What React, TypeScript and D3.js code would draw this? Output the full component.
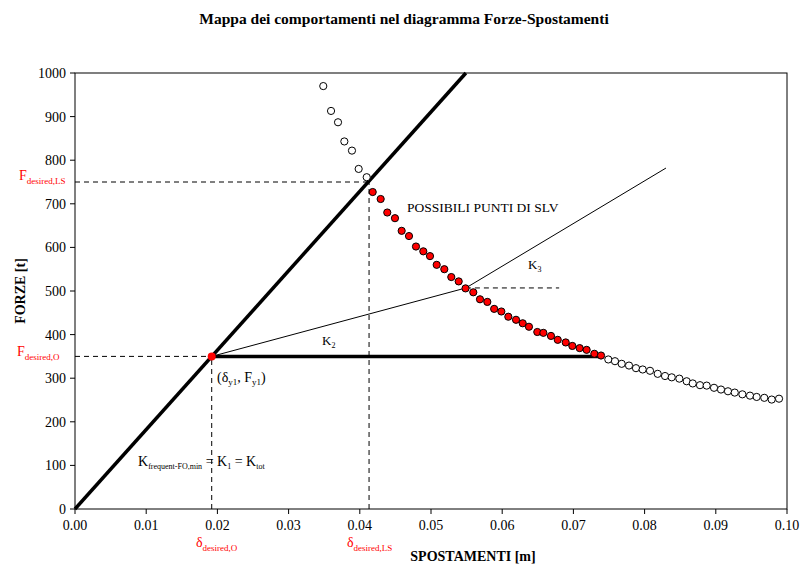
import React from "react";
import * as d3 from "d3";

const xTicks = [0, 0.01, 0.02, 0.03, 0.04, 0.05, 0.06, 0.07, 0.08, 0.09, 0.1];
const yTicks = [0, 100, 200, 300, 400, 500, 600, 700, 800, 900, 1000];

const upperOpen: [number, number][] = [
  [0.03487, 970], [0.03596, 913], [0.03694, 887], [0.03783, 843],
  [0.0389, 822], [0.03984, 780], [0.04097, 761],
];
const redPoints: [number, number][] = [
  [0.04181, 727], [0.04293, 711], [0.04386, 680], [0.04494, 667], [0.04588, 638],
  [0.04691, 626], [0.04789, 602], [0.04892, 591], [0.04986, 580], [0.0508, 560],
  [0.05187, 550], [0.05285, 532], [0.05389, 522], [0.05485, 506], [0.05594, 497],
  [0.05688, 481], [0.05791, 475], [0.05887, 459], [0.05988, 453], [0.06086, 441],
  [0.06194, 434], [0.06288, 426], [0.06376, 418], [0.06493, 406], [0.06578, 404],
  [0.06685, 397], [0.0678, 388], [0.06892, 382], [0.06985, 374], [0.07088, 369],
  [0.07186, 365], [0.07294, 356], [0.07388, 352],
];
const lowerOpen: [number, number][] = [
  [0.0749, 343], [0.07584, 339], [0.07678, 333], [0.07781, 329], [0.07879, 323],
  [0.07973, 320], [0.08076, 317], [0.08184, 310], [0.08287, 305], [0.08381, 302],
  [0.08488, 299], [0.08591, 293], [0.08676, 288], [0.08778, 284], [0.08872, 283],
  [0.08975, 278], [0.09073, 274], [0.09171, 270], [0.09266, 267], [0.09373, 263],
  [0.0948, 260], [0.09574, 257], [0.09681, 255], [0.09785, 251], [0.09888, 253],
];

// lines
const k1Line: [number, number][] = [[0, 0], [0.0549, 1000]];
const plateau: [number, number][] = [[0.0192, 350], [0.0742, 350]];
const k2k3Line: [number, number][] = [[0.0192, 350], [0.0549, 507], [0.083, 782]];
const yieldPoint: [number, number] = [0.0192, 350];
const lsPoint: [number, number] = [0.0413, 750];
const k3Dash: [number, number][] = [[0.0549, 507], [0.068, 507]];

const FONT = "'Liberation Serif', 'Times New Roman', serif";

export default function App() {
  const W = 803, H = 567;
  const x = d3.scaleLinear().domain([0, 0.1]).range([75, 787]);
  const y = d3.scaleLinear().domain([0, 1000]).range([509, 73]);
  const line = d3.line<[number, number]>().x(d => x(d[0])).y(d => y(d[1]));
  const red = "#ff0000";

  return (
    <svg width={W} height={H} style={{ position: "absolute", left: 0, top: 0, background: "#fff" }} fontFamily={FONT}>
      <text x={404} y={24} textAnchor="middle" fontSize={15.5} fontWeight="bold">
        Mappa dei comportamenti nel diagramma Forze-Spostamenti
      </text>

      {/* frame */}
      <rect x={x(0)} y={y(1000)} width={x(0.1) - x(0)} height={y(0) - y(1000)} fill="none" stroke="#000" strokeWidth={1} />

      {/* ticks */}
      {xTicks.map(t => (
        <g key={"x" + t}>
          <line x1={x(t)} x2={x(t)} y1={y(0)} y2={y(0) + 5} stroke="#000" />
          <text x={x(t)} y={y(0) + 21} textAnchor="middle" fontSize={14}>{t.toFixed(2)}</text>
        </g>
      ))}
      {yTicks.map(t => (
        <g key={"y" + t}>
          <line x1={x(0) - 5} x2={x(0)} y1={y(t)} y2={y(t)} stroke="#000" />
          <text x={x(0) - 9} y={y(t) + 5} textAnchor="end" fontSize={14}>{t}</text>
        </g>
      ))}

      {/* axis titles */}
      <text x={473} y={561} textAnchor="middle" fontSize={14} fontWeight="bold">SPOSTAMENTI [m]</text>
      <text transform={`translate(25,291) rotate(-90)`} textAnchor="middle" fontSize={14} fontWeight="bold">FORZE [t]</text>

      {/* dashed guides */}
      <g stroke="#000" strokeWidth={1} strokeDasharray="5,4" fill="none">
        <line x1={x(0)} x2={x(yieldPoint[0])} y1={y(yieldPoint[1])} y2={y(yieldPoint[1])} />
        <line x1={x(yieldPoint[0])} x2={x(yieldPoint[0])} y1={y(0)} y2={y(yieldPoint[1])} />
        <line x1={x(0)} x2={x(lsPoint[0])} y1={y(lsPoint[1])} y2={y(lsPoint[1])} />
        <line x1={x(lsPoint[0])} x2={x(lsPoint[0])} y1={y(0)} y2={y(lsPoint[1])} />
        <path d={line(k3Dash) || ""} />
      </g>

      {/* lines */}
      <path d={line(k1Line) || ""} stroke="#000" strokeWidth={3.5} fill="none" />
      <path d={line(plateau) || ""} stroke="#000" strokeWidth={3.5} fill="none" />
      <path d={line(k2k3Line) || ""} stroke="#000" strokeWidth={1} fill="none" />

      {/* points */}
      {upperOpen.concat(lowerOpen).map((d, i) => (
        <circle key={"o" + i} cx={x(d[0])} cy={y(d[1])} r={3.6} fill="#fff" stroke="#000" strokeWidth={1} />
      ))}
      {redPoints.map((d, i) => (
        <circle key={"r" + i} cx={x(d[0])} cy={y(d[1])} r={3.6} fill={red} stroke="#000" strokeWidth={1} />
      ))}
      <circle cx={x(yieldPoint[0])} cy={y(yieldPoint[1])} r={4} fill={red} />

      {/* annotations */}
      <text x={407} y={212} fontSize={13.5}>POSSIBILI PUNTI DI SLV</text>
      <text x={528} y={269} fontSize={13}>K<tspan fontSize={8} dy={3}>3</tspan></text>
      <text x={322} y={345} fontSize={13}>K<tspan fontSize={8} dy={3}>2</tspan></text>
      <text x={217} y={382} fontSize={14}>(δ<tspan fontSize={9} dy={3}>y1</tspan><tspan dy={-3}>, F</tspan><tspan fontSize={9} dy={3}>y1</tspan><tspan dy={-3}>)</tspan></text>
      <text x={138} y={466} fontSize={14}>K<tspan fontSize={8} dy={3}>frequent-FO,min</tspan><tspan dy={-3}> = K</tspan><tspan fontSize={8} dy={3}>1</tspan><tspan dy={-3}> = K</tspan><tspan fontSize={8} dy={3}>tot</tspan></text>

      <text x={19} y={180} fontSize={14} fill={red}>F<tspan fontSize={9} dy={4}>desired,LS</tspan></text>
      <text x={17} y={356} fontSize={14} fill={red}>F<tspan fontSize={9} dy={4}>desired,O</tspan></text>
      <text x={196} y={547} fontSize={14} fill={red}>δ<tspan fontSize={9} dy={4}>desired,O</tspan></text>
      <text x={347} y={547} fontSize={14} fill={red}>δ<tspan fontSize={9} dy={4}>desired,LS</tspan></text>
    </svg>
  );
}
